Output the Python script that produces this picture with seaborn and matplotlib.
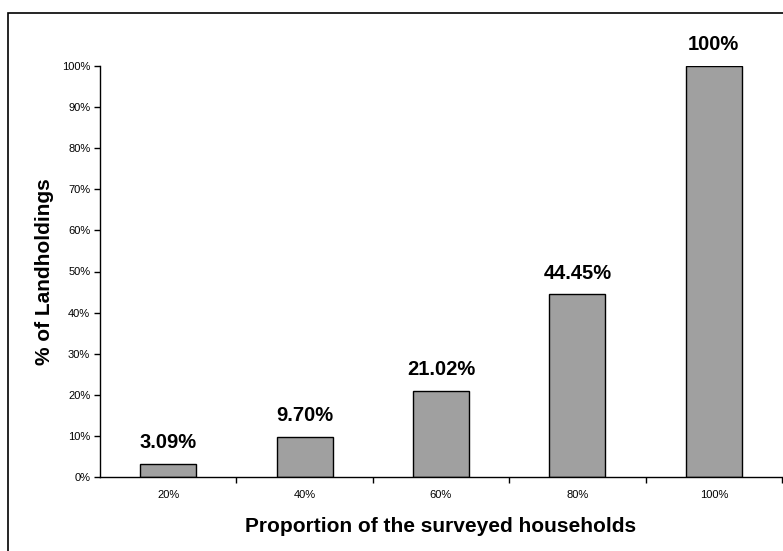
import matplotlib
matplotlib.use("Agg")
import matplotlib.pyplot as plt
import matplotlib.patches as mpatches
from matplotlib.ticker import PercentFormatter, FixedLocator
import seaborn as sns
import pandas as pd

categories = ["20%", "40%", "60%", "80%", "100%"]
values = [3.09, 9.70, 21.02, 44.45, 100.0]
bar_labels = ["3.09%", "9.70%", "21.02%", "44.45%", "100%"]

df = pd.DataFrame({"Proportion": categories, "Landholdings": values})

sns.set_style("white")
plt.rcParams['font.family'] = ['Liberation Sans', 'DejaVu Sans']
plt.rcParams['text.color'] = 'black'
plt.rcParams['axes.labelcolor'] = 'black'
plt.rcParams['xtick.color'] = 'black'
plt.rcParams['ytick.color'] = 'black'

fig = plt.figure(figsize=(7.83, 5.51), dpi=100)
ax = fig.add_axes([100 / 783, 1 - 477 / 551, 682 / 783, 411 / 551])

sns.barplot(data=df, x="Proportion", y="Landholdings", color="#a0a0a0",
            saturation=1, edgecolor="black", linewidth=1.0, width=0.41, ax=ax)

for p, lab in zip(ax.patches, bar_labels):
    ax.annotate(lab, (p.get_x() + p.get_width() / 2, p.get_height()),
                xytext=(0, 8.5), textcoords="offset points", ha="center", va="bottom",
                fontsize=14.5, fontweight="bold")

ax.set_ylim(0, 100)
ax.set_xlim(-0.5, 4.5)
ax.yaxis.set_major_locator(FixedLocator(range(0, 101, 10)))
ax.yaxis.set_major_formatter(PercentFormatter(decimals=0))
ax.tick_params(axis="y", which="major", left=True, length=4, width=1, labelsize=8, pad=3)
# category ticks sit between the bars
ax.set_xticks(range(5))
ax.set_xticklabels(categories)
ax.tick_params(axis="x", which="major", bottom=False, labelsize=8, pad=6)
ax.xaxis.set_minor_locator(FixedLocator([0.5, 1.5, 2.5, 3.5, 4.5]))
ax.tick_params(axis="x", which="minor", bottom=True, length=4, width=1)

for s in ["top", "right"]:
    ax.spines[s].set_visible(False)
for s in ["left", "bottom"]:
    ax.spines[s].set_color("black")
    ax.spines[s].set_linewidth(1)

ax.set_xlabel("Proportion of the surveyed households", fontsize=15, fontweight="bold", labelpad=12)
ax.set_ylabel("% of Landholdings", fontsize=15, fontweight="bold", labelpad=6)

fig.patches.append(mpatches.Rectangle((8 / 783, -0.5), 2, 0.5 + 1 - 13 / 551,
                                      transform=fig.transFigure, fill=False,
                                      edgecolor="black", linewidth=1.2))

fig.savefig("out.png", dpi=100)
